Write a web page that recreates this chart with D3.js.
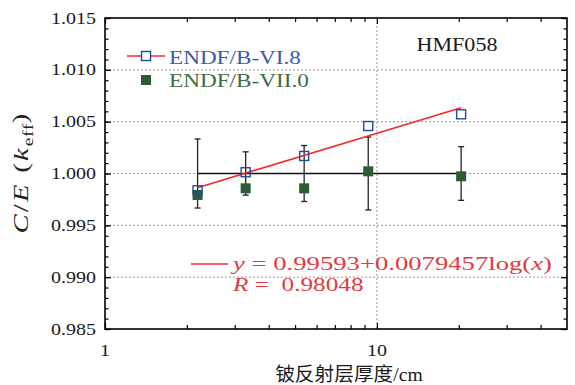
<!DOCTYPE html>
<html>
<head>
<meta charset="utf-8">
<script src="https://cdn.jsdelivr.net/npm/d3@7"></script>
<style>
  html, body { margin: 0; padding: 0; background: #fff; }
  svg { display: block; }
  text { font-family: "Liberation Serif", "Noto Sans CJK SC", serif; white-space: pre; }
</style>
</head>
<body>
<svg id="chart" width="575" height="385"></svg>
<script>
// Beryllium reflector thickness (cm) for each HMF058 configuration
const thickness = [2.19, 3.29, 5.40, 9.29, 20.4];
// C/E of k_eff with ENDF/B-VI.8 and ENDF/B-VII.0
const ceVI8 = [0.99838, 1.00012, 1.00169, 1.00458, 1.00571];
const ceVII0 = [0.99793, 0.99857, 0.99857, 1.00021, 0.99973];
// Benchmark (experimental) value and its uncertainty
const expValue = [1, 1, 1, 1, 1];
const expUnc = [0.00333, 0.00209, 0.0027, 0.00352, 0.00259];
// Log fit of the ENDF/B-VI.8 results
const fitA = 0.99593, fitB = 0.0079457, fitR = 0.98048;
// Axes
const xDomain = [1, 50];
const yDomain = [0.985, 1.015];
const yMajorTicks = [0.985, 0.990, 0.995, 1.000, 1.005, 1.010, 1.015];
const yGridTicks = [0.990, 0.995, 1.000, 1.005, 1.010];
const xMajorTicks = [1, 10];
const xMinorTicks = [2, 3, 4, 5, 6, 7, 8, 9, 20, 30, 40];
const xGridTicks = [10];
const seriesNames = ["ENDF/B-VI.8", "ENDF/B-VII.0"];
const panelTitle = "HMF058";
const xTitle = "铍反射层厚度/cm";

const svg = d3.select("#chart");
const L = 105, R = 567, T = 18, B = 329;
const x = d3.scaleLog().domain(xDomain).range([L, R]);
const y = d3.scaleLinear().domain(yDomain).range([B, T]);

const blue = "#1f4c9e", blueText = "#3b5ba9";
const green = "#2a5c35", greenText = "#3e6d40";
const red = "#f22a2a", redText = "#e23a3e";
const ink = "#1a1a1a";

// Stretch a text element horizontally (about its anchor) to a given width
function fitWidth(sel, target) {
  sel.each(function () {
    const w = this.getBBox().width;
    if (w > 0) d3.select(this).attr("transform", `scale(${target / w},1)`);
  });
  return sel;
}
// Text placed at a point, inside its own positioned group
function label(px, py, opts = {}) {
  const g = svg.append("g").attr("transform", `translate(${px},${py})${opts.rotate ? ` rotate(${opts.rotate})` : ""}`);
  return g.append("text").attr("x", 0).attr("y", 0).attr("dy", "0.35em")
    .attr("text-anchor", opts.anchor || "start")
    .attr("font-size", opts.size || 16).attr("fill", opts.fill || ink);
}

// Grid
const grid = svg.append("g").attr("stroke", "#9a9a9a").attr("stroke-width", 1)
  .attr("stroke-dasharray", "2,2");
grid.selectAll("line.gy").data(yGridTicks).join("line")
  .attr("x1", L).attr("x2", R).attr("y1", d => y(d)).attr("y2", d => y(d));
grid.selectAll("line.gx").data(xGridTicks).join("line")
  .attr("x1", d => x(d)).attr("x2", d => x(d)).attr("y1", T).attr("y2", B);

// Axes with inward ticks on all four sides
const yMinor = d3.range(0, 31).map(i => +(yDomain[0] + i * 0.001).toFixed(3));
function drawAxis(axis, transform) {
  const g = svg.append("g").attr("transform", transform).call(axis);
  g.select(".domain").remove();
  g.selectAll("line").attr("stroke", "#000").attr("stroke-width", 1.2);
  return g;
}
drawAxis(d3.axisRight(y).tickValues(yMajorTicks).tickSize(6).tickFormat(""), `translate(${L},0)`);
drawAxis(d3.axisRight(y).tickValues(yMinor).tickSize(3.5).tickFormat(""), `translate(${L},0)`);
drawAxis(d3.axisLeft(y).tickValues(yMajorTicks).tickSize(6).tickFormat(""), `translate(${R},0)`);
drawAxis(d3.axisLeft(y).tickValues(yMinor).tickSize(3.5).tickFormat(""), `translate(${R},0)`);
drawAxis(d3.axisTop(x).tickValues(xMajorTicks).tickSize(6).tickFormat(""), `translate(0,${B})`);
drawAxis(d3.axisTop(x).tickValues(xMinorTicks).tickSize(4).tickFormat(""), `translate(0,${B})`);
drawAxis(d3.axisBottom(x).tickValues(xMajorTicks).tickSize(6).tickFormat(""), `translate(0,${T})`);
drawAxis(d3.axisBottom(x).tickValues(xMinorTicks).tickSize(4).tickFormat(""), `translate(0,${T})`);

// Tick labels
const tickFmt = d3.format(".3f");
const tickStretch = 1.25;
yMajorTicks.forEach(v => {
  label(L - 9, y(v), { anchor: "end", size: 16 })
    .attr("transform", `scale(${tickStretch},1)`).text(tickFmt(v));
});
xMajorTicks.forEach(v => {
  label(x(v), B + 21, { anchor: "middle", size: 16 })
    .attr("transform", `scale(${tickStretch},1)`).text(v);
});

// Frame
svg.append("rect").attr("x", L).attr("y", T).attr("width", R - L).attr("height", B - T)
  .attr("fill", "none").attr("stroke", "#000").attr("stroke-width", 1.6);

// Benchmark line and error bars
const expPts = thickness.map((t, i) => ({ t, v: expValue[i], u: expUnc[i] }));
svg.append("path").datum(expPts)
  .attr("d", d3.line().x(d => x(d.t)).y(d => y(d.v)))
  .attr("fill", "none").attr("stroke", "#111").attr("stroke-width", 1.5);
const eb = svg.append("g").attr("stroke", "#222").attr("stroke-width", 1.3);
eb.selectAll("line.v").data(expPts).join("line")
  .attr("x1", d => x(d.t)).attr("x2", d => x(d.t))
  .attr("y1", d => y(d.v + d.u)).attr("y2", d => y(d.v - d.u));
eb.selectAll("line.t").data(expPts).join("line")
  .attr("x1", d => x(d.t) - 3).attr("x2", d => x(d.t) + 3)
  .attr("y1", d => y(d.v + d.u)).attr("y2", d => y(d.v + d.u));
eb.selectAll("line.b").data(expPts).join("line")
  .attr("x1", d => x(d.t) - 3).attr("x2", d => x(d.t) + 3)
  .attr("y1", d => y(d.v - d.u)).attr("y2", d => y(d.v - d.u));

// Fit line over the measured thickness range
const fitX = d3.extent(thickness);
svg.append("path").datum(fitX)
  .attr("d", d3.line().x(d => x(d)).y(d => y(fitA + fitB * Math.log10(d))))
  .attr("fill", "none").attr("stroke", red).attr("stroke-width", 1.6);

// ENDF/B-VII.0: filled squares
const sq = 10;
svg.append("g").selectAll("rect").data(thickness).join("rect")
  .attr("x", d => x(d) - sq / 2).attr("y", (d, i) => y(ceVII0[i]) - sq / 2)
  .attr("width", sq).attr("height", sq).attr("fill", green);

// ENDF/B-VI.8: open squares
const osq = 9;
svg.append("g").selectAll("rect").data(thickness).join("rect")
  .attr("x", d => x(d) - osq / 2).attr("y", (d, i) => y(ceVI8[i]) - osq / 2)
  .attr("width", osq).attr("height", osq).attr("fill", "none")
  .attr("stroke", blue).attr("stroke-width", 1.4);

// Legend
const lg = svg.append("g");
lg.append("line").attr("x1", 127).attr("x2", 165).attr("y1", 56).attr("y2", 56)
  .attr("stroke", red).attr("stroke-width", 1.6);
lg.append("rect").attr("x", 146 - osq / 2).attr("y", 56 - osq / 2).attr("width", osq).attr("height", osq)
  .attr("fill", "#fff").attr("stroke", blue).attr("stroke-width", 1.4);
lg.append("rect").attr("x", 146 - sq / 2).attr("y", 80 - sq / 2).attr("width", sq).attr("height", sq)
  .attr("fill", green);
fitWidth(label(169, 57, { size: 19, fill: blueText }).text(seriesNames[0]), 132);
fitWidth(label(169, 80, { size: 19, fill: greenText }).text(seriesNames[1]), 140);

// Panel title
fitWidth(label(457, 44, { anchor: "middle", size: 19 }).text(panelTitle), 81);

// Fit annotation
svg.append("line").attr("x1", 191).attr("x2", 228).attr("y1", 264).attr("y2", 264)
  .attr("stroke", red).attr("stroke-width", 1.6);
const eq = label(233, 264, { size: 18, fill: redText });
eq.append("tspan").attr("font-style", "italic").text("y");
eq.append("tspan").text(` = ${fitA}+${fitB}log(`);
eq.append("tspan").attr("font-style", "italic").text("x");
eq.append("tspan").text(")");
fitWidth(eq, 322);
const rt = label(233, 285, { size: 18, fill: redText });
rt.append("tspan").attr("font-style", "italic").text("R");
rt.append("tspan").text(` =  ${fitR}`);
fitWidth(rt, 132);

// Axis titles
const yt = label(21, (T + B) / 2 - 1, { anchor: "middle", size: 21, rotate: -90 })
  .attr("fill", "#222").attr("letter-spacing", 1.6);
yt.append("tspan").attr("font-style", "italic").text("C");
yt.append("tspan").text("/");
yt.append("tspan").attr("font-style", "italic").text("E");
yt.append("tspan").text(" (");
yt.append("tspan").attr("font-style", "italic").text("k");
yt.append("tspan").attr("font-size", 14.5).attr("dy", "0.3em").attr("letter-spacing", 0.3).text("eff");
yt.append("tspan").attr("dy", "-0.25em").text(")");
fitWidth(yt, 122);

fitWidth(label(349, 374, { anchor: "middle", size: 19 }).text(xTitle), 148);
</script>
</body>
</html>
